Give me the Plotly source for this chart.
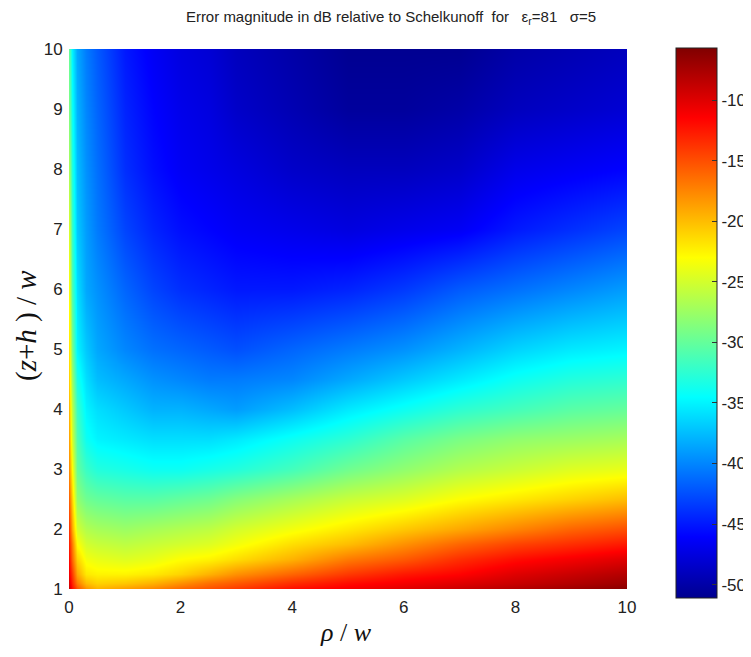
import plotly.graph_objects as go

# rho / w (columns)
x_vals = [0, 0.05, 0.15, 0.3, 0.5, 1, 1.5, 2, 2.5, 3, 4, 5, 6, 7, 8, 9, 10]
# (z+h) / w (rows)
y_vals = [1, 1.1, 1.25, 1.5, 1.75, 2, 2.5, 3, 3.5, 4, 4.5, 5, 6, 7, 8, 9, 10]

# Error magnitude in dB, one list per row (y ascending)
row_1_00 = [-9, -12, -15, -18, -19.5, -18.5, -17.5, -16, -15, -14, -12, -11, -10, -9, -8, -7, -6]
row_1_10 = [-10, -13, -17, -20, -21, -20.5, -19.5, -18, -16.5, -15.5, -13.5, -12, -11, -10, -9, -8, -7]
row_1_25 = [-11, -14, -19, -22, -22.5, -22.5, -22, -21, -19.5, -18, -16, -14, -12.5, -11.5, -10, -9, -8]
row_1_50 = [-12, -16, -21, -23.5, -24, -24.5, -24, -23, -22.5, -21.5, -19.5, -17, -15.5, -13.5, -12, -11, -10]
row_1_75 = [-13, -17, -23, -25, -25.5, -26, -25.5, -25, -24.5, -23.5, -21.5, -20, -18, -16, -14.5, -13.5, -12.5]
row_2_00 = [-14, -19, -25, -26.5, -27, -27.5, -27, -26.5, -26, -25, -23.5, -22, -20.5, -19, -17.5, -16, -15]
row_2_50 = [-16, -21, -28, -29.5, -30, -30.5, -30.5, -30, -29.5, -28.5, -27, -25.5, -24.5, -23, -22, -21, -20]
row_3_00 = [-18, -23, -30, -32, -33, -33.5, -34, -34, -33.5, -33, -31.5, -29.5, -28, -26.5, -25.5, -24.5, -24]
row_3_50 = [-19, -25, -31, -34, -35, -35.5, -36, -36, -36, -35.5, -34, -32.5, -30.5, -29, -28, -27.5, -27]
row_4_00 = [-20, -26, -32, -35, -36, -37, -38, -38, -38.5, -39, -37.5, -35.5, -34, -32.5, -31.5, -30.5, -30]
row_4_50 = [-21, -27.5, -33.5, -36, -37.5, -38.5, -39.5, -40, -40.5, -40.5, -40, -38.5, -37, -35.5, -34, -33, -32.5]
row_5_00 = [-22, -29, -35, -37, -38.5, -40, -41, -41.5, -42, -42.5, -41.5, -40.5, -39.5, -38, -36.5, -35.5, -35]
row_6_00 = [-23.5, -31, -36, -38.5, -39.5, -41.5, -43, -44, -44.5, -45, -45, -44.5, -43.5, -42, -41, -40, -39]
row_7_00 = [-25, -32, -37, -39, -40.5, -43, -44.5, -45.5, -46, -46.5, -47, -47.5, -47, -46.5, -45, -44, -43]
row_8_00 = [-27, -33, -37.5, -39.5, -41, -44, -45.5, -46.5, -47, -47.5, -48.5, -49, -49, -48.5, -47, -46.5, -46]
row_9_00 = [-29, -34, -38, -40, -41.5, -44.5, -46, -47, -47.5, -48.5, -49.5, -50.5, -50.5, -50, -49, -48.5, -48]
row_10_0 = [-30, -35, -38.5, -40.5, -42, -45, -46.5, -47.5, -48, -49, -50, -51, -51, -51, -50, -49.5, -49]

z_rows = [row_1_00, row_1_10, row_1_25, row_1_50, row_1_75, row_2_00, row_2_50,
          row_3_00, row_3_50, row_4_00, row_4_50, row_5_00, row_6_00, row_7_00,
          row_8_00, row_9_00, row_10_0]

x_ticks = [0, 2, 4, 6, 8, 10]
y_ticks = [1, 2, 3, 4, 5, 6, 7, 8, 9, 10]
cb_ticks = [-50, -45, -40, -35, -30, -25, -20, -15, -10]
cb_labels = ["-50", "-45", "-40", "-35", "-30", "-25", "-20", "-15", "-10"]

jet = [[0.0, "rgb(0,0,143)"], [0.111, "rgb(0,0,255)"], [0.365, "rgb(0,255,255)"],
       [0.619, "rgb(255,255,0)"], [0.873, "rgb(255,0,0)"], [1.0, "rgb(128,0,0)"]]

# page has an 8px body margin, so the figure is sized/placed to compensate
OFF = 8
W, H = 751 - OFF, 657 - OFF
ml, mr, mt, mb = 69 - OFF, 124, 49 - OFF, 68
pw = W - ml - mr
ph = H - mt - mb
plot_bottom = H - mb


def px_x(X):
    return (X - OFF - ml) / pw


def px_y(Y):
    return (plot_bottom - (Y - OFF)) / ph


tick_font = dict(family="Liberation Sans, Arial", size=17, color="#222")

fig = go.Figure(go.Heatmap(
    x=x_vals, y=y_vals, z=z_rows,
    zsmooth="best", colorscale=jet, zmin=-51.1, zmax=-5.7,
    colorbar=dict(
        x=px_x(676), xanchor="left", xpad=0,
        y=px_y(323), yanchor="middle", ypad=0,
        len=550, lenmode="pixels", thickness=41,
        outlinewidth=1, outlinecolor="#222",
        tickvals=cb_ticks, ticktext=cb_labels,
        ticks="inside", ticklen=5, tickcolor="#333",
        tickfont=tick_font,
    ),
))

sp = "\u00a0"
fig.update_layout(
    width=W, height=H,
    margin=dict(l=ml, r=mr, t=mt, b=mb, autoexpand=False),
    paper_bgcolor="white", plot_bgcolor="white",
    title=dict(
        text=f"Error magnitude in dB relative to Schelkunoff{sp}{sp}for{sp}{sp}{sp}ε<sub>r</sub>=81{sp}{sp}{sp}σ=5",
        x=(391 - OFF) / W, xanchor="center", y=1 - (17 - OFF) / H, yanchor="middle",
        font=dict(family="Liberation Sans, Arial", size=15, color="#222"),
    ),
    xaxis=dict(range=[0, 10], tickvals=x_ticks, ticks="outside", ticklen=3,
               tickcolor="rgba(0,0,0,0)", showgrid=False, zeroline=False,
               showline=False, tickfont=tick_font),
    yaxis=dict(range=[1, 10], tickvals=y_ticks, ticks="outside", ticklen=2,
               tickcolor="rgba(0,0,0,0)", showgrid=False, zeroline=False,
               showline=False, tickfont=tick_font),
    annotations=[
        dict(text="<i>ρ</i> / <i>w</i>", xref="paper", yref="paper",
             x=px_x(346), y=px_y(632), showarrow=False,
             xanchor="center", yanchor="middle",
             font=dict(family="Liberation Serif, Times New Roman", size=26, color="#111")),
        dict(text=f"(<i>z</i>+<i>h</i>{sp}) / <i>w</i>", xref="paper", yref="paper",
             x=px_x(26), y=px_y(326), showarrow=False,
             textangle=-90, xanchor="center", yanchor="middle",
             font=dict(family="Liberation Serif, Times New Roman", size=29, color="#111")),
    ],
)

fig.write_html("out.html")
